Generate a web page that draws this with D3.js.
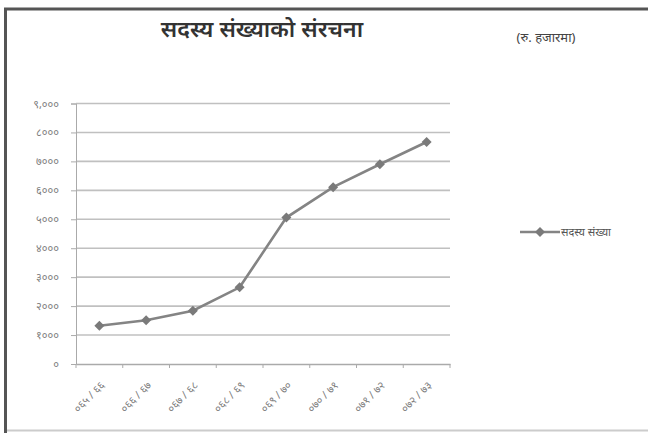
<!DOCTYPE html>
<html>
<head>
<meta charset="utf-8">
<script src="https://cdn.jsdelivr.net/npm/d3@7"></script>
<style>
  body { margin: 0; background: #fff; }
  text { font-family: "Noto Sans", "DejaVu Sans", sans-serif; }
</style>
</head>
<body>
<div id="chart"></div>
<script>
"use strict";

const years = ["०६५ / ६६", "०६६ / ६७", "०६७ / ६८", "०६८ / ६९", "०६९ / ७०", "०७० / ७१", "०७१ / ७२", "०७२ / ७३"];
const members = [1320, 1510, 1840, 2650, 5060, 6110, 6900, 7670];
const yTicks = [0, 1000, 2000, 3000, 4000, 5000, 6000, 7000, 8000, 9000];
const nepaliDigits = ["०", "१", "२", "३", "४", "५", "६", "७", "८", "९"];

const plot = {
    width: 648,
    height: 433,
    left: 76,
    right: 450,
    top: 103.5,
    bottom: 364
};

function toNepali(n) {
    return String(n).replace(/\d/g, (d) => nepaliDigits[+d]);
}

const svg = d3.select("#chart")
    .append("svg")
    .attr("width", plot.width)
    .attr("height", plot.height);

// frame
svg.append("rect").attr("x", 0).attr("y", 0).attr("width", plot.width).attr("height", plot.height).attr("fill", "#fff");
svg.append("line").attr("x1", 5.5).attr("x2", 5.5).attr("y1", 8).attr("y2", 433)
    .attr("stroke", "#555").attr("stroke-width", 3);
svg.append("line").attr("x1", 4).attr("x2", 648).attr("y1", 9).attr("y2", 9)
    .attr("stroke", "#555").attr("stroke-width", 3);
svg.append("line").attr("x1", 7).attr("x2", 648).attr("y1", 430.5).attr("y2", 430.5)
    .attr("stroke", "#ccc").attr("stroke-width", 2);

let xScale = d3.scaleBand()
    .domain(years)
    .range([plot.left, plot.right]);

let yScale = d3.scaleLinear()
    .domain([0, 9000])
    .range([plot.bottom, plot.top]);

// gridlines
svg.append("g")
    .selectAll("line")
    .data(yTicks.filter((d) => d > 0))
    .enter()
    .append("line")
    .attr("x1", plot.left)
    .attr("x2", plot.right)
    .attr("y1", (d) => yScale(d))
    .attr("y2", (d) => yScale(d))
    .attr("stroke", "#c0c0c0")
    .attr("stroke-width", 1.6);

// y axis
let yAxis = d3.axisLeft(yScale)
    .tickValues(yTicks)
    .tickSize(5)
    .tickPadding(12)
    .tickFormat((d) => d == 9000 ? "९,०००" : toNepali(d));
let gy = svg.append("g")
    .attr("transform", "translate(" + plot.left + ",0)")
    .call(yAxis);
gy.select(".domain").attr("stroke", "#aaa");
gy.selectAll(".tick line").attr("stroke", "#aaa");
gy.selectAll(".tick text").attr("fill", "#808080").style("font-size", "11px");

// x axis
let xAxis = d3.axisBottom(xScale).tickSize(0).tickFormat("");
let gx = svg.append("g")
    .attr("transform", "translate(0," + plot.bottom + ")")
    .call(xAxis);
gx.select(".domain").attr("stroke", "#aaa").attr("stroke-width", 1.5);
gx.selectAll(".xt")
    .data(d3.range(years.length + 1))
    .enter()
    .append("line")
    .attr("x1", (i) => plot.left + i * xScale.bandwidth())
    .attr("x2", (i) => plot.left + i * xScale.bandwidth())
    .attr("y1", 0).attr("y2", 4)
    .attr("stroke", "#aaa");

svg.append("g")
    .selectAll("text")
    .data(years)
    .enter()
    .append("text")
    .attr("transform", (d) => "translate(" + (xScale(d) + xScale.bandwidth() / 2 + 6) + "," + (plot.bottom + 22) + ") rotate(-45)")
    .attr("text-anchor", "end")
    .attr("fill", "#808080")
    .style("font-size", "11px")
    .text((d) => d);

// line
let line = d3.line()
    .x((d, i) => xScale(years[i]) + xScale.bandwidth() / 2)
    .y((d) => yScale(d));

svg.append("path")
    .datum(members)
    .attr("fill", "none")
    .attr("stroke", "#848484")
    .attr("stroke-width", 2.6)
    .attr("d", line);

let marker = d3.symbol().type(d3.symbolSquare).size(50);
svg.append("g")
    .selectAll("path")
    .data(members)
    .enter()
    .append("path")
    .attr("d", marker)
    .attr("transform", (d, i) => "translate(" + (xScale(years[i]) + xScale.bandwidth() / 2) + "," + yScale(d) + ") rotate(45)")
    .attr("fill", "#7a7a7a");

// title
svg.append("text")
    .attr("x", 262)
    .attr("y", 37)
    .attr("text-anchor", "middle")
    .attr("fill", "#333")
    .style("font-size", "23px")
    .style("font-weight", "600")
    .text("सदस्य संख्याको संरचना");

svg.append("text")
    .attr("x", 546)
    .attr("y", 42)
    .attr("text-anchor", "middle")
    .attr("fill", "#444")
    .style("font-size", "13px")
    .text("(रु. हजारमा)");

// legend
let legend = svg.append("g").attr("transform", "translate(520,232)");
legend.append("line")
    .attr("x1", 0).attr("x2", 40).attr("y1", 0).attr("y2", 0)
    .attr("stroke", "#848484").attr("stroke-width", 2.6);
legend.append("path")
    .attr("d", marker)
    .attr("transform", "translate(20,0) rotate(45)")
    .attr("fill", "#7a7a7a");
legend.append("text")
    .attr("x", 41)
    .attr("y", 4)
    .attr("fill", "#555")
    .style("font-size", "11px")
    .text("सदस्य संख्या");
</script>
</body>
</html>
